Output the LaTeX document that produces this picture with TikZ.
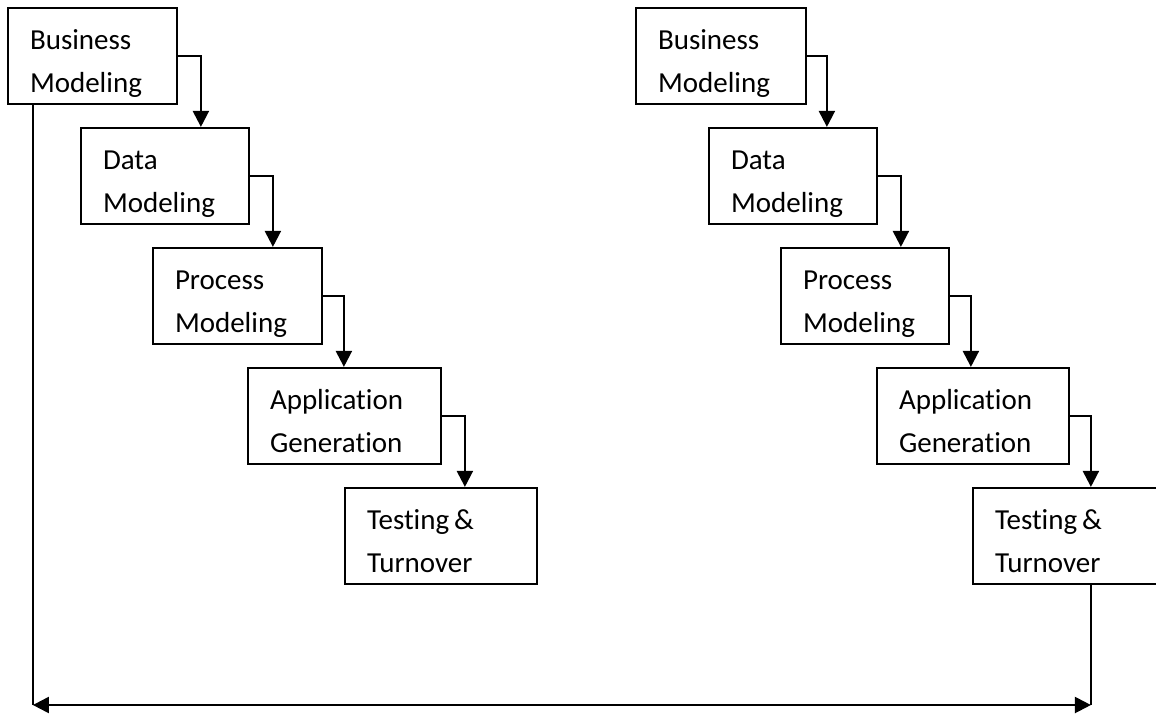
\documentclass[tikz,border=0pt]{standalone}
\usepackage{fontspec}
\setmainfont{Carlito}[RawFeature={-liga}]
\usetikzlibrary{arrows.meta}

\begin{document}
\begin{tikzpicture}[x=1pt, y=-1pt,
  phase/.style={draw, line width=2.2pt, rectangle, minimum height=96pt,
    minimum width=#1, text width=#1-44pt, inner xsep=22pt, inner ysep=0pt,
    align=left, font=\fontsize{29}{43}\selectfont},
  phase/.default=168pt,
  tip/.tip={Triangle[width=16pt,length=16pt]},
  flow/.style={line width=2.2pt, -tip},
  link/.style={line width=2.2pt},
  back/.style={line width=2.2pt, tip-tip}
]
\useasboundingbox (0,0) rectangle (1156,713);
\clip (0,0) rectangle (1156,713);

% two-line label with fixed top and bottom so every box places its text alike
\newcommand{\twolines}[2]{\rule{0pt}{36pt}#1\\#2\rule[-7pt]{0pt}{7pt}}

% left chain
\node[phase=169pt] (bm1) at (92.5,56)  {\twolines{Business}{Modeling}};
\node[phase=168pt] (dm1) at (165,176)  {\twolines{Data}{Modeling}};
\node[phase=169pt] (pm1) at (237.5,296) {\twolines{Process}{Modeling}};
\node[phase=193pt] (ag1) at (344.5,416) {\twolines{Application}{Generation}};
\node[phase=192pt] (tt1) at (441,536)  {\twolines{Testing\kern5pt\&}{Turnover}};

% right chain
\node[phase=170pt] (bm2) at (721,56)   {\twolines{Business}{Modeling}};
\node[phase=168pt] (dm2) at (793,176)  {\twolines{Data}{Modeling}};
\node[phase=168pt] (pm2) at (865,296)  {\twolines{Process}{Modeling}};
\node[phase=192pt] (ag2) at (973,416)  {\twolines{Application}{Generation}};
\node[phase=192pt] (tt2) at (1069,536) {\twolines{Testing\kern5pt\&}{Turnover}};

% step-down arrows, left
\draw[flow] (bm1.east) -| ([xshift=121pt]dm1.north west);
\draw[flow] (dm1.east) -| ([xshift=121pt]pm1.north west);
\draw[flow] (pm1.east) -| ([xshift=97pt]ag1.north west);
\draw[flow] (ag1.east) -| ([xshift=121pt]tt1.north west);

% step-down arrows, right
\draw[flow] (bm2.east) -| ([xshift=119pt]dm2.north west);
\draw[flow] (dm2.east) -| ([xshift=121pt]pm2.north west);
\draw[flow] (pm2.east) -| ([xshift=95pt]ag2.north west);
\draw[flow] (ag2.east) -| ([xshift=119pt]tt2.north west);

% return span along the bottom
\coordinate (floor) at (0,705);
\coordinate (dropL) at ([xshift=26pt]bm1.south west);
\coordinate (dropR) at ([xshift=119pt]tt2.south west);
\draw[link] (dropL) -- (dropL |- floor);
\draw[link] (dropR) -- (dropR |- floor);
\draw[back] (dropL |- floor) -- (dropR |- floor);
\end{tikzpicture}
\end{document}
